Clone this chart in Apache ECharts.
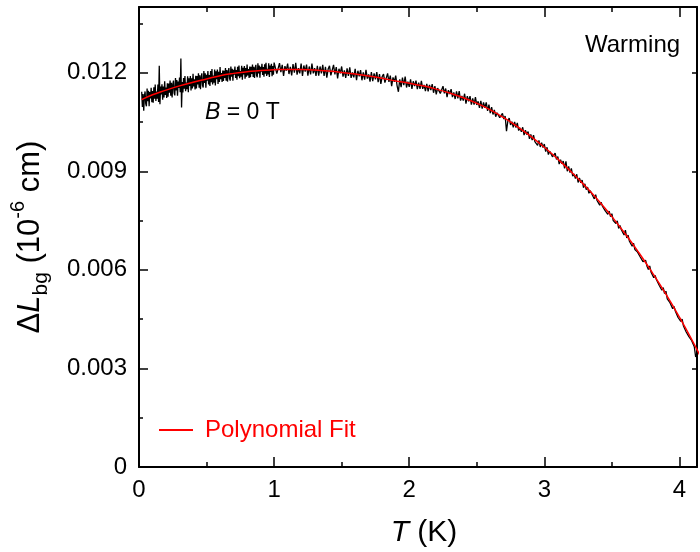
<!DOCTYPE html>
<html>
<head>
<meta charset="utf-8">
<script src="https://cdn.jsdelivr.net/npm/echarts@6/dist/echarts.min.js"></script>
<style>html,body{margin:0;padding:0;background:#fff;}#chart{width:700px;height:552px;}</style>
</head>
<body>
<div id="chart"></div>
<script>
// ---- data ----
const xTicks = [0, 1, 2, 3, 4];
const yTicks = [0, 0.003, 0.006, 0.009, 0.012];

// measured trace: [T (K), ΔL_bg (10^-6 cm)]
const measured = [
[0.020,0.01142],[0.025,0.01096],[0.030,0.01135],[0.035,0.01084],[0.040,0.01128],[0.045,0.01143],[0.050,0.01105],[0.055,0.01098],
[0.060,0.01152],[0.065,0.01113],[0.070,0.01145],[0.075,0.01098],[0.080,0.01141],[0.085,0.01122],[0.090,0.01154],[0.095,0.01110],
[0.100,0.01144],[0.105,0.01109],[0.110,0.01156],[0.115,0.01121],[0.120,0.01164],[0.125,0.01114],[0.130,0.01143],[0.135,0.01121],
[0.140,0.01164],[0.145,0.01111],[0.150,0.01221],[0.155,0.01104],[0.160,0.01158],[0.165,0.01134],[0.170,0.01165],[0.175,0.01118],
[0.180,0.01158],[0.185,0.01125],[0.190,0.01174],[0.195,0.01132],[0.200,0.01155],[0.205,0.01123],[0.210,0.01168],[0.215,0.01127],
[0.220,0.01167],[0.225,0.01139],[0.230,0.01176],[0.235,0.01130],[0.240,0.01169],[0.245,0.01125],[0.250,0.01162],[0.255,0.01176],
[0.260,0.01138],[0.265,0.01131],[0.270,0.01184],[0.275,0.01146],[0.280,0.01178],[0.285,0.01130],[0.290,0.01173],[0.295,0.01154],
[0.300,0.01185],[0.305,0.01141],[0.310,0.01243],[0.315,0.01094],[0.320,0.01172],[0.325,0.01140],[0.330,0.01184],[0.335,0.01151],
[0.340,0.01190],[0.345,0.01144],[0.350,0.01170],[0.355,0.01150],[0.360,0.01189],[0.365,0.01141],[0.370,0.01183],[0.375,0.01160],
[0.380,0.01190],[0.385,0.01146],[0.390,0.01183],[0.395,0.01152],[0.400,0.01197],[0.405,0.01158],[0.410,0.01180],[0.415,0.01149],
[0.420,0.01191],[0.425,0.01152],[0.430,0.01190],[0.435,0.01164],[0.440,0.01198],[0.445,0.01154],[0.450,0.01192],[0.455,0.01150],
[0.460,0.01185],[0.465,0.01198],[0.470,0.01162],[0.475,0.01155],[0.480,0.01205],[0.485,0.01169],[0.490,0.01198],[0.495,0.01154],
[0.500,0.01194],[0.505,0.01176],[0.510,0.01205],[0.515,0.01164],[0.520,0.01193],[0.525,0.01160],[0.530,0.01205],[0.535,0.01171],
[0.540,0.01211],[0.545,0.01164],[0.550,0.01191],[0.555,0.01170],[0.560,0.01210],[0.565,0.01161],[0.570,0.01204],[0.575,0.01180],
[0.580,0.01210],[0.585,0.01166],[0.590,0.01203],[0.595,0.01172],[0.600,0.01217],[0.605,0.01180],[0.610,0.01199],[0.615,0.01172],
[0.620,0.01207],[0.625,0.01175],[0.630,0.01206],[0.635,0.01184],[0.640,0.01214],[0.645,0.01176],[0.650,0.01208],[0.655,0.01173],
[0.660,0.01202],[0.665,0.01214],[0.670,0.01183],[0.675,0.01176],[0.680,0.01219],[0.685,0.01188],[0.690,0.01212],[0.695,0.01176],
[0.700,0.01209],[0.705,0.01194],[0.710,0.01219],[0.715,0.01184],[0.720,0.01208],[0.725,0.01179],[0.730,0.01218],[0.735,0.01189],
[0.740,0.01222],[0.745,0.01183],[0.750,0.01205],[0.755,0.01188],[0.760,0.01221],[0.765,0.01179],[0.770,0.01215],[0.775,0.01195],
[0.780,0.01220],[0.785,0.01182],[0.790,0.01214],[0.795,0.01188],[0.800,0.01225],[0.805,0.01192],[0.810,0.01211],[0.815,0.01184],
[0.820,0.01219],[0.825,0.01186],[0.830,0.01218],[0.835,0.01196],[0.840,0.01225],[0.845,0.01187],[0.850,0.01218],[0.855,0.01184],
[0.860,0.01213],[0.865,0.01224],[0.870,0.01193],[0.875,0.01186],[0.880,0.01229],[0.885,0.01198],[0.890,0.01222],[0.895,0.01185],
[0.900,0.01218],[0.905,0.01203],[0.910,0.01227],[0.915,0.01193],[0.920,0.01217],[0.925,0.01188],[0.930,0.01226],[0.935,0.01197],
[0.940,0.01230],[0.945,0.01190],[0.950,0.01212],[0.955,0.01195],[0.960,0.01229],[0.965,0.01187],[0.970,0.01222],[0.975,0.01202],
[0.980,0.01227],[0.985,0.01189],[0.990,0.01220],[0.995,0.01194],[1.000,0.01231],
[1.01,0.01225],[1.02,0.01197],[1.03,0.01191],[1.04,0.01229],[1.05,0.01202],[1.06,0.01224],[1.07,0.01190],[1.08,0.01220],
[1.09,0.01206],[1.10,0.01228],[1.11,0.01196],[1.12,0.01218],[1.13,0.01192],[1.14,0.01226],[1.15,0.01200],[1.16,0.01230],
[1.17,0.01194],[1.18,0.01214],[1.19,0.01198],[1.20,0.01228],[1.21,0.01190],[1.22,0.01222],[1.23,0.01203],[1.24,0.01225],
[1.25,0.01191],[1.26,0.01219],[1.27,0.01195],[1.28,0.01228],[1.29,0.01198],[1.30,0.01214],[1.31,0.01190],[1.32,0.01221],
[1.33,0.01191],[1.34,0.01219],[1.35,0.01198],[1.36,0.01224],[1.37,0.01190],[1.38,0.01218],[1.39,0.01185],[1.40,0.01211],
[1.41,0.01221],[1.42,0.01192],[1.43,0.01186],[1.44,0.01224],[1.45,0.01195],[1.46,0.01217],[1.47,0.01183],[1.48,0.01212],
[1.49,0.01198],[1.50,0.01219],[1.51,0.01188],[1.52,0.01207],[1.53,0.01184],[1.54,0.01213],[1.55,0.01190],[1.56,0.01216],
[1.57,0.01184],[1.58,0.01201],[1.59,0.01186],[1.60,0.01212],[1.61,0.01177],[1.62,0.01206],[1.63,0.01189],[1.64,0.01208],
[1.65,0.01177],[1.66,0.01201],[1.67,0.01179],[1.68,0.01209],[1.69,0.01182],[1.70,0.01195],[1.71,0.01173],[1.72,0.01202],
[1.73,0.01174],[1.74,0.01198],[1.75,0.01180],[1.76,0.01202],[1.77,0.01171],[1.78,0.01196],[1.79,0.01166],[1.80,0.01188],
[1.81,0.01196],[1.82,0.01170],[1.83,0.01165],[1.84,0.01198],[1.85,0.01172],[1.86,0.01191],[1.87,0.01159],[1.88,0.01186],
[1.89,0.01172],[1.90,0.01191],[1.91,0.01161],[1.92,0.01142],[1.93,0.01180],[1.94,0.01156],[1.95,0.01185],[1.96,0.01162],
[1.97,0.01188],[1.98,0.01155],[1.99,0.01173],[2.00,0.01157],[2.01,0.01180],[2.02,0.01151],[2.03,0.01174],[2.04,0.01159],
[2.05,0.01176],[2.06,0.01150],[2.07,0.01170],[2.08,0.01151],[2.09,0.01175],[2.10,0.01151],[2.11,0.01163],[2.12,0.01144],
[2.13,0.01166],[2.14,0.01143],[2.15,0.01163],[2.16,0.01147],[2.17,0.01165],[2.18,0.01139],[2.19,0.01159],[2.20,0.01134],
[2.21,0.01153],[2.22,0.01159],[2.23,0.01137],[2.24,0.01132],[2.25,0.01159],[2.26,0.01137],[2.27,0.01152],[2.28,0.01126],
[2.29,0.01147],[2.30,0.01135],[2.31,0.01150],[2.32,0.01126],[2.33,0.01140],[2.34,0.01120],[2.35,0.01143],[2.36,0.01122],
[2.37,0.01144],[2.38,0.01115],[2.39,0.01129],[2.40,0.01115],[2.41,0.01136],[2.42,0.01106],[2.43,0.01129],[2.44,0.01113],
[2.45,0.01129],[2.46,0.01103],[2.47,0.01122],[2.48,0.01103],[2.49,0.01126],[2.50,0.01102],[2.51,0.01113],[2.52,0.01093],
[2.53,0.01114],[2.54,0.01091],[2.55,0.01110],[2.56,0.01093],[2.57,0.01110],[2.58,0.01084],[2.59,0.01103],[2.60,0.01077],
[2.61,0.01095],[2.62,0.01073],[2.63,0.01087],[2.64,0.01066],[2.65,0.01078],[2.66,0.01082],[2.67,0.01063],[2.68,0.01058],
[2.69,0.01076],[2.70,0.01059],[2.71,0.01068],[2.72,0.01022],[2.73,0.01053],[2.74,0.01062],[2.75,0.01041],[2.76,0.01051],
[2.77,0.01034],[2.78,0.01050],[2.79,0.01033],[2.80,0.01047],[2.81,0.01024],[2.82,0.01032],[2.83,0.01020],[2.84,0.01034],
[2.85,0.01010],[2.86,0.01025],[2.87,0.01012],[2.88,0.01021],[2.89,0.00999],[2.90,0.01012],[2.91,0.00995],[2.92,0.01010],
[2.93,0.00990],[2.94,0.00996],[2.95,0.00979],[2.96,0.00994],[2.97,0.00974],[2.98,0.00987],[2.99,0.00972],[3.00,0.00983],
[3.01,0.00960],[3.02,0.00973],[3.03,0.00951],[3.04,0.00961],[3.05,0.00964],[3.06,0.00944],[3.07,0.00938],[3.08,0.00955],
[3.09,0.00936],[3.10,0.00945],[3.11,0.00922],[3.12,0.00935],[3.13,0.00923],[3.14,0.00931],[3.15,0.00909],[3.16,0.00930],
[3.17,0.00900],[3.18,0.00915],[3.19,0.00896],[3.20,0.00909],[3.21,0.00885],[3.22,0.00892],[3.23,0.00878],[3.24,0.00891],
[3.25,0.00866],[3.26,0.00880],[3.27,0.00865],[3.28,0.00873],[3.29,0.00850],[3.30,0.00862],[3.31,0.00844],[3.32,0.00852],
[3.33,0.00833],[3.34,0.00841],[3.35,0.00840],[3.36,0.00824],[3.37,0.00816],[3.38,0.00829],[3.39,0.00811],[3.40,0.00817],
[3.41,0.00797],[3.42,0.00806],[3.43,0.00794],[3.44,0.00799],[3.45,0.00780],[3.46,0.00785],[3.47,0.00769],[3.48,0.00779],
[3.49,0.00762],[3.50,0.00771],[3.51,0.00750],[3.52,0.00753],[3.53,0.00741],[3.54,0.00749],[3.55,0.00726],[3.56,0.00735],
[3.57,0.00722],[3.58,0.00727],[3.59,0.00706],[3.60,0.00721],[3.61,0.00697],[3.62,0.00706],[3.63,0.00687],[3.64,0.00689],
[3.65,0.00672],[3.66,0.00681],[3.67,0.00662],[3.68,0.00668],[3.69,0.00654],[3.70,0.00660],[3.71,0.00639],[3.72,0.00645],
[3.73,0.00625],[3.74,0.00631],[3.75,0.00629],[3.76,0.00611],[3.77,0.00601],[3.78,0.00612],[3.79,0.00593],[3.80,0.00597],
[3.81,0.00576],[3.82,0.00583],[3.83,0.00570],[3.84,0.00573],[3.85,0.00553],[3.86,0.00556],[3.87,0.00538],[3.88,0.00546],
[3.89,0.00528],[3.90,0.00535],[3.91,0.00512],[3.92,0.00514],[3.93,0.00500],[3.94,0.00506],[3.95,0.00482],[3.96,0.00489],
[3.97,0.00474],[3.98,0.00477],[3.99,0.00455],[4.00,0.00461],[4.01,0.00443],[4.02,0.00450],[4.03,0.00429],[4.04,0.00429],
[4.05,0.00411],[4.06,0.00417],[4.07,0.00397],[4.08,0.00401],[4.09,0.00385],[4.10,0.00389],[4.11,0.00366],[4.12,0.00335],
[4.13,0.00345]
];

// polynomial fit curve
const fitT = [0.02,0.1,0.2,0.3,0.4,0.5,0.6,0.7,0.8,0.9,1.0,1.1,1.2,1.3,1.4,1.5,1.6,1.7,1.8,1.9,2.0,2.1,2.2,2.3,2.4,2.5,2.6,2.7,2.8,2.9,3.0,3.1,3.2,3.3,3.4,3.5,3.6,3.7,3.8,3.9,4.0,4.1,4.16];
const fitL = [0.01118,0.01133,0.01147,0.01160,0.01171,0.01181,0.01191,0.01198,0.01203,0.01207,0.01209,0.01210,0.01210,0.01208,0.01205,0.01201,0.01196,0.01190,0.01183,0.01175,0.01168,0.01160,0.01150,0.01138,0.01124,0.01107,0.01087,0.01063,0.01036,0.01006,0.00973,0.00937,0.00898,0.00856,0.00811,0.00762,0.00709,0.00652,0.00591,0.00526,0.00456,0.00381,0.00333];

const seriesName = 'Polynomial Fit';
const annWarming = 'Warming';

// ---- chart ----
const FONT = '"Liberation Sans", Arial, sans-serif';
const X_MAX = 4.13, Y_MAX = 0.014;
const gridRect = {left: 139, right: 3, top: 7, bottom: 85, containLabel: false, outerBoundsMode: 'none'};
const near = (v, arr) => arr.some(t => Math.abs(t - v) < 1e-9);

const chart = echarts.init(document.getElementById('chart'), null, {renderer: 'canvas'});
const axLine = {show: true, onZero: false, lineStyle: {color: '#000', width: 2}};
const noLine = {show: false, onZero: false};
const tick = (len) => ({show: true, inside: true, length: len, lineStyle: {color: '#000', width: 1.5}});
const option = {
  animation: false,
  backgroundColor: '#fff',
  grid: [Object.assign({}, gridRect), Object.assign({}, gridRect), Object.assign({}, gridRect)],
  legend: {
    data: [seriesName],
    left: 159, top: 418,
    padding: 0,
    icon: 'rect', itemWidth: 34, itemHeight: 2,
    textStyle: {color: '#ff0000', fontSize: 24, fontFamily: FONT, padding: [0, 0, 0, 7]}
  },
  xAxis: [
    { // main bottom
      gridIndex: 0, type: 'value', position: 'bottom', min: 0, max: X_MAX, interval: 1,
      axisLine: axLine, axisTick: tick(10),
      axisLabel: {show: true, color: '#000', fontSize: 24, fontFamily: FONT, margin: 11,
        formatter: v => near(v, xTicks) ? String(v) : ''},
      splitLine: {show: false},
      name: '{i|T}{n| (K)}', nameLocation: 'middle', nameGap: 51,
      nameTextStyle: {padding: [0, 0, 0, 12], rich: {
        i: {fontSize: 30, fontStyle: 'italic', fontFamily: FONT, color: '#000'},
        n: {fontSize: 30, fontFamily: FONT, color: '#000'}
      }}
    },
    { // bottom minor ticks
      gridIndex: 1, type: 'value', position: 'bottom', min: 0, max: X_MAX, interval: 0.5,
      axisLine: noLine, axisLabel: {show: false}, splitLine: {show: false}, axisTick: tick(5)
    },
    { // top axis with minor ticks
      gridIndex: 1, type: 'value', position: 'top', min: 0, max: X_MAX, interval: 0.5,
      axisLine: axLine, axisLabel: {show: false}, splitLine: {show: false}, axisTick: tick(5)
    },
    { // top major ticks
      gridIndex: 2, type: 'value', position: 'top', min: 0, max: X_MAX, interval: 1,
      axisLine: noLine, axisLabel: {show: false}, splitLine: {show: false}, axisTick: tick(10)
    }
  ],
  yAxis: [
    { // main left
      gridIndex: 0, type: 'value', position: 'left', min: 0, max: Y_MAX, interval: 0.003,
      axisLine: axLine, axisTick: tick(9),
      axisLabel: {show: true, color: '#000', fontSize: 24, fontFamily: FONT, margin: 12,
        formatter: v => {
          if (!near(v, yTicks)) return '';
          return v === 0 ? '0' : v.toFixed(3);
        }},
      splitLine: {show: false},
      name: '{d|Δ}{i|L}{sub|bg}{n| (10}{sup|-6}{n| cm)}',
      nameLocation: 'middle', nameRotate: 90, nameGap: 87,
      nameTextStyle: {rich: {
        d: {fontSize: 31, fontFamily: FONT, color: '#000', lineHeight: 44},
        i: {fontSize: 31, fontStyle: 'italic', fontFamily: FONT, color: '#000', lineHeight: 44},
        n: {fontSize: 31, fontFamily: FONT, color: '#000', lineHeight: 44},
        sub: {fontSize: 21, fontFamily: FONT, color: '#000', verticalAlign: 'bottom'},
        sup: {fontSize: 20, fontFamily: FONT, color: '#000', verticalAlign: 'top'}
      }}
    },
    { // left minor ticks
      gridIndex: 1, type: 'value', position: 'left', min: 0, max: Y_MAX, interval: 0.0015,
      axisLine: noLine, axisLabel: {show: false}, splitLine: {show: false}, axisTick: tick(4)
    },
    { // right axis, major ticks only
      gridIndex: 1, type: 'value', position: 'right', min: 0, max: Y_MAX, interval: 0.003,
      axisLine: axLine, axisLabel: {show: false}, splitLine: {show: false}, axisTick: tick(5)
    },
    { // placeholder for grid 2
      gridIndex: 2, type: 'value', position: 'left', min: 0, max: Y_MAX, show: false
    }
  ],
  series: [
    {
      name: 'measured', type: 'line', xAxisIndex: 0, yAxisIndex: 0,
      data: measured, showSymbol: false, symbol: 'none', z: 2,
      lineStyle: {color: '#000', width: 1.3}, itemStyle: {color: '#000'}
    },
    {
      name: seriesName, type: 'line', xAxisIndex: 0, yAxisIndex: 0,
      data: fitT.map((t, i) => [t, fitL[i]]), showSymbol: false, symbol: 'none', smooth: true, z: 3,
      lineStyle: {color: '#ff0000', width: 1.5}, itemStyle: {color: '#ff0000'}
    }
  ],
  graphic: [
    {type: 'text', x: 585, y: 45, style: {text: annWarming, fontSize: 24, fontFamily: FONT, fill: '#000', verticalAlign: 'middle', align: 'left'}},
    {type: 'text', x: 205, y: 113, style: {
      text: '{i|B}{n| = 0 T}', verticalAlign: 'middle', align: 'left',
      rich: {
        i: {fontSize: 23, fontStyle: 'italic', fontFamily: FONT, fill: '#000'},
        n: {fontSize: 23, fontFamily: FONT, fill: '#000'}
      }}}
  ]
};
chart.setOption(option);
</script>
</body>
</html>
